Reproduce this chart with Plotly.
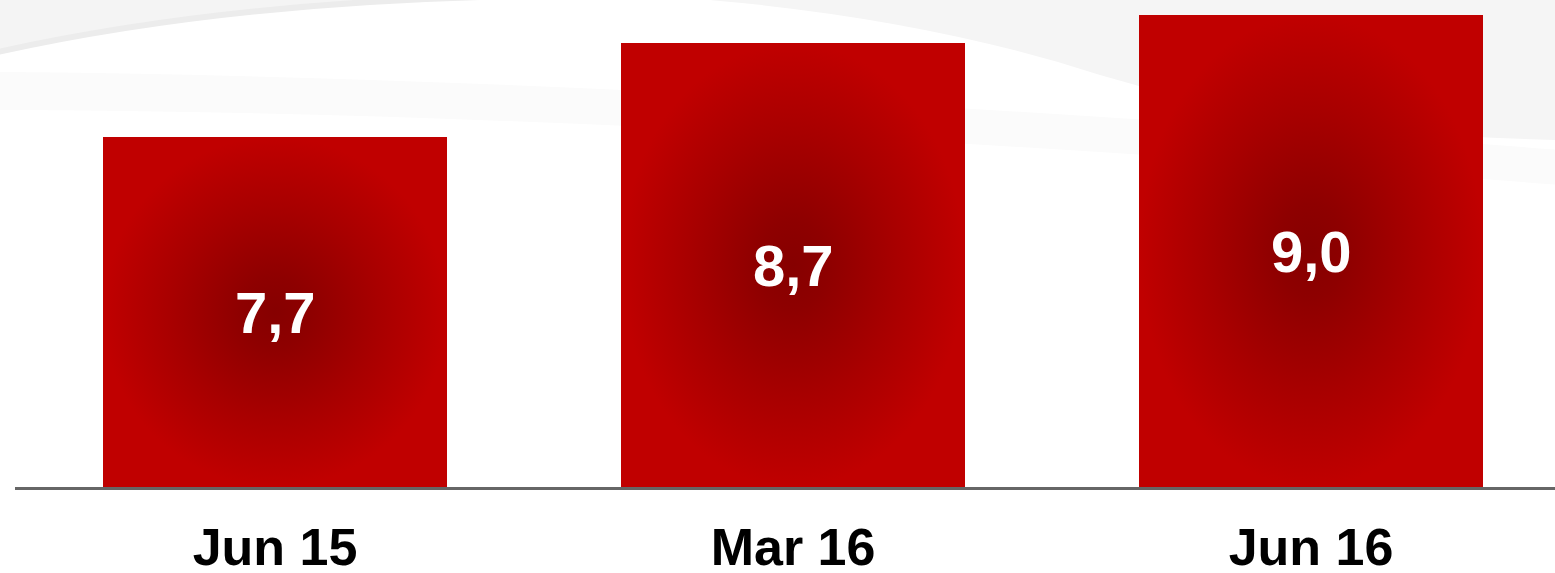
import plotly.graph_objects as go

# ---- data ----
categories = ["Jun 15", "Mar 16", "Jun 16"]
values = [7.7, 8.7, 9.0]
value_labels = ["7,7", "8,7", "9,0"]

# ---- style ----
Y_MIN, Y_MAX = 3.97, 9.16
BAR_W = 0.664
FONT = "Arial, Liberation Sans, sans-serif"

xs = list(range(len(categories)))
fig = go.Figure()

# base bars (solid) anchored at axis minimum
fig.add_trace(go.Bar(
    x=xs, y=[v - Y_MIN for v in values], base=Y_MIN, width=BAR_W,
    marker=dict(color="#c40000", line=dict(width=0)),
    hoverinfo="skip", showlegend=False,
))

# radial-gradient overlay for each bar
for i, v in zip(xs, values):
    x0, x1 = i - BAR_W / 2, i + BAR_W / 2
    fig.add_trace(go.Scatter(
        x=[x0, x1, x1, x0, x0], y=[Y_MIN, Y_MIN, v, v, Y_MIN],
        mode="lines", fill="toself", line=dict(width=0),
        fillgradient=dict(type="radial",
                          colorscale=[[0, "#860000"], [0.2, "#8e0000"], [0.6, "#a80000"], [1, "#c00000"]]),
        hoverinfo="skip", showlegend=False,
    ))

# value labels at bar centres
for i, v, lab in zip(xs, values, value_labels):
    fig.add_annotation(x=i, y=(Y_MIN + v) / 2, text=lab, showarrow=False,
                       font=dict(family=FONT, size=58, color="white", weight="bold"))

# faint background swoosh (paper coordinates)
def px(x):
    return (x - 15) / 1540
def py(y):
    return 1 - y / 487

left_grey = (f"M {px(-20)},{py(-5)} L {px(-20)},{py(58)} "
             f"Q {px(200)},{py(5)} {px(480)},{py(-5)} Z")
fig.add_shape(type="path", path=left_grey, xref="paper", yref="paper",
              fillcolor="#f4f4f4", line=dict(width=0), layer="below")
edge = (f"M {px(-20)},{py(56)} Q {px(200)},{py(5)} {px(480)},{py(-3)}")
fig.add_shape(type="path", path=edge, xref="paper", yref="paper",
              line=dict(color="#ececec", width=6), layer="below")
right_grey = (f"M {px(640)},{py(-5)} Q {px(900)},{py(10)} {px(1100)},{py(75)} "
              f"Q {px(1300)},{py(135)} {px(1560)},{py(140)} L {px(1560)},{py(-5)} Z")
fig.add_shape(type="path", path=right_grey, xref="paper", yref="paper",
              fillcolor="#f5f5f5", line=dict(width=0), layer="below")
low_band = (f"M {px(-20)},{py(72)} Q {px(600)},{py(75)} {px(1560)},{py(150)} "
            f"L {px(1560)},{py(185)} Q {px(600)},{py(110)} {px(-20)},{py(110)} Z")
fig.add_shape(type="path", path=low_band, xref="paper", yref="paper",
              fillcolor="#fbfbfb", line=dict(width=0), layer="below")

fig.update_layout(
    width=1555, height=573,
    margin=dict(l=15, r=0, t=0, b=86, autoexpand=False),
    paper_bgcolor="white", plot_bgcolor="rgba(0,0,0,0)",
    bargap=0,
    xaxis=dict(
        range=[-0.502, 2.471], tickmode="array", tickvals=xs, ticktext=categories,
        showgrid=False, zeroline=False, showline=True, linecolor="#666666", linewidth=3,
        ticks="", ticklabelstandoff=13, automargin=False,
        tickfont=dict(family=FONT, size=52, color="black", weight="bold"),
        fixedrange=True,
    ),
    yaxis=dict(range=[Y_MIN, Y_MAX], visible=False, fixedrange=True, automargin=False),
)

fig.write_html("out.html", config={"displayModeBar": False},
               post_script="document.body.style.margin='0';")
